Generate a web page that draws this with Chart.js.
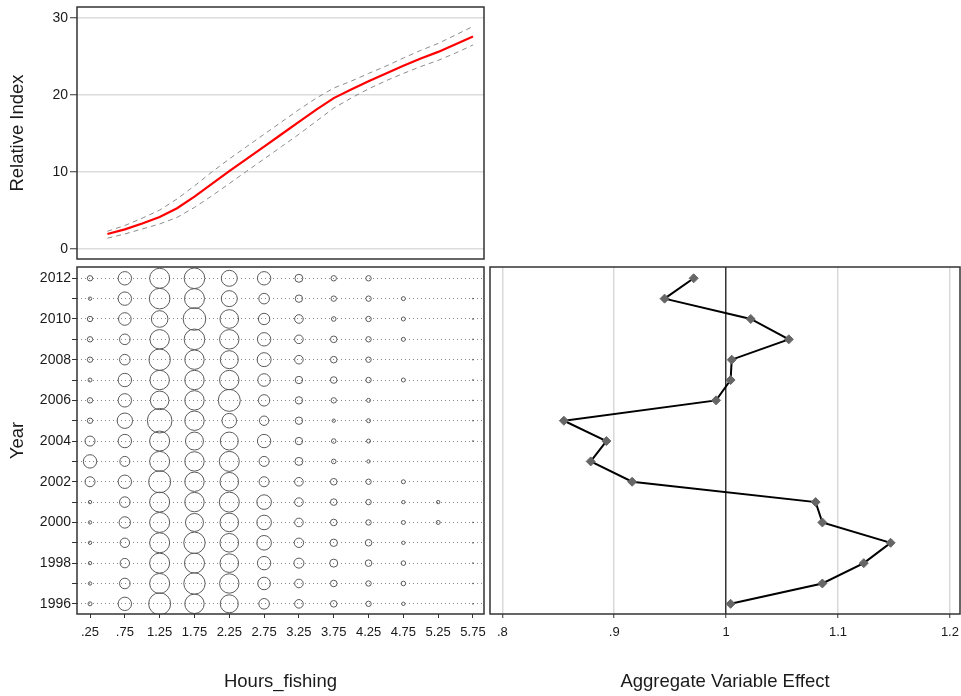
<!DOCTYPE html>
<html><head><meta charset="utf-8">
<script src="https://cdn.jsdelivr.net/npm/chart.js@4.4.1/dist/chart.umd.min.js"></script>
<style>
html,body{margin:0;padding:0;background:#fff;width:961px;height:696px;overflow:hidden;}
canvas{position:absolute;}
</style></head><body>
<canvas id="c1" width="490" height="262" style="left:0;top:0"></canvas>
<canvas id="c2" width="490" height="434" style="left:0;top:262px"></canvas>
<canvas id="c3" width="475" height="434" style="left:486px;top:262px"></canvas>
<script>
// ---------- data ----------
const curveHours = [0.5,0.75,1,1.25,1.5,1.75,2,2.25,2.5,2.75,3,3.25,3.5,3.75,4,4.25,4.5,4.75,5,5.25,5.5,5.75];
const curveIndex = [1.95,2.55,3.3,4.15,5.3,6.8,8.45,10.1,11.7,13.3,14.9,16.5,18.1,19.6,20.7,21.8,22.8,23.8,24.75,25.6,26.6,27.6];
const curveUpper = [2.3,3.05,4.0,5.05,6.5,8.2,10.0,11.7,13.3,14.9,16.5,18.1,19.6,20.9,21.8,22.8,23.75,24.8,25.8,26.7,27.8,28.9];
const curveLower = [1.4,1.95,2.6,3.25,4.1,5.4,6.9,8.5,10.1,11.7,13.3,14.9,16.6,18.3,19.6,20.8,21.85,22.8,23.7,24.5,25.45,26.5];
const indexTicks = [0,10,20,30];
const indexTickLabels = ['0','10','20','30'];

const hourBins = [0.25,0.75,1.25,1.75,2.25,2.75,3.25,3.75,4.25,4.75,5.25,5.75];
const hourTickLabels = ['.25','.75','1.25','1.75','2.25','2.75','3.25','3.75','4.25','4.75','5.25','5.75'];

const years = [2012,2011,2010,2009,2008,2007,2006,2005,2004,2003,2002,2001,2000,1999,1998,1997,1996];
// bubble size per year (rows follow `years`), columns follow `hourBins`
const bubbleSize = [
  [2.7,6.7,10,10.3,8,6.7,4,2.7,2.7,0,0,0],
  [1.7,6.7,10.3,10,8,5.3,3.7,2.7,2.7,2,0,0.5],
  [2.7,6.3,8.3,11.3,9.3,5.7,4.3,2.3,2.7,2,0,0.5],
  [2.7,5.3,9.7,10.3,9.7,6.7,4.3,3.3,2.7,2,0,0.5],
  [2.7,5.3,10.7,9.7,9,7,4.3,3.3,2.7,0,0,0.5],
  [2,6.7,9.7,9.7,9.7,6.3,3.7,3.3,2.7,2,0,0.5],
  [2.7,6.7,9.3,9.7,11,5.7,3.7,2.7,2,0,0,0.5],
  [2.7,7.7,12.3,9.7,7.3,4.7,3.7,1.7,2,0,0,0.5],
  [5,6.7,10,9,9,6.7,3.7,2.3,2,0,0,0.5],
  [6.7,5,10,9.7,10,5,4,2.3,1.7,0,0,0],
  [5,6.7,11,9.7,9.3,5,4.3,3.3,2.7,2,0,0],
  [1.7,5.3,10,9.7,10,7.3,4.3,3.3,2.7,1.7,1.7,0],
  [1.7,5.7,10,9,9.3,7.3,4.3,3.3,2.7,2,2,0.5],
  [1.7,4.7,10,10.7,9.3,7.3,4.7,3.7,3.3,1.7,0,0.5],
  [1.7,4.7,10,10,9.3,6.7,5,4,3.3,2.3,0,0.5],
  [1.7,5.3,10,10.7,9.7,6.3,4.3,3.3,2.7,2.3,0,0.5],
  [2,6.7,11,9.7,9,5.3,4.3,3.3,2.7,1.7,0,0.5]
];
const yearTicks = [1996,1997,1998,1999,2000,2001,2002,2003,2004,2005,2006,2007,2008,2009,2010,2011,2012];
const yearTickLabels = ['1996','','1998','','2000','','2002','','2004','','2006','','2008','','2010','','2012'];

const effectYears = [2012,2011,2010,2009,2008,2007,2006,2005,2004,2003,2002,2001,2000,1999,1998,1997,1996];
const effectValues = [0.971,0.945,1.022,1.056,1.005,1.004,0.991,0.855,0.893,0.879,0.916,1.080,1.086,1.147,1.123,1.086,1.004];
const effectTicks = [0.8,0.9,1.0,1.1,1.2];
const effectTickLabels = ['.8','.9','1','1.1','1.2'];

// ---------- setup ----------
Chart.defaults.font.family = '"Liberation Sans", Arial, sans-serif';
Chart.defaults.color = '#1a1a1a';
Chart.defaults.animation = false;
Chart.defaults.plugins.legend.display = false;
Chart.defaults.plugins.tooltip.enabled = false;

const boxPlugin = {
  id: 'box',
  afterDraw(chart) {
    const {ctx, chartArea: a} = chart;
    ctx.save();
    ctx.strokeStyle = '#333';
    ctx.lineWidth = 1.5;
    ctx.strokeRect(a.left, a.top, a.right - a.left, a.bottom - a.top);
    ctx.restore();
  }
};

function noPad(s) { s.paddingTop = 0; s.paddingBottom = 0; s.paddingLeft = 0; s.paddingRight = 0; }

const X_MIN = 0.063, X_MAX = 5.908;
const Y_MIN = 1995.5, Y_MAX = 2012.555;
const TITLE_FONT = {size: 18.5};

// ---------- top-left: relative index ----------
new Chart(document.getElementById('c1'), {
  type: 'scatter',
  data: {
    datasets: [
      {data: curveHours.map((h,i)=>({x:h,y:curveUpper[i]})), showLine:true, borderColor:'#8c8c8c', borderWidth:1, borderDash:[5,4], pointRadius:0},
      {data: curveHours.map((h,i)=>({x:h,y:curveLower[i]})), showLine:true, borderColor:'#8c8c8c', borderWidth:1, borderDash:[5,4], pointRadius:0},
      {data: curveHours.map((h,i)=>({x:h,y:curveIndex[i]})), showLine:true, borderColor:'#ff0000', borderWidth:2.2, pointRadius:0}
    ]
  },
  options: {
    responsive:false,
    layout:{autoPadding:false, padding:{top:7,right:6,bottom:3,left:0}},
    scales:{
      x:{type:'linear', display:false, min:X_MIN, max:X_MAX},
      y:{type:'linear', min:-1.3, max:31.43,
         afterFit:s=>{s.width=77; noPad(s);},
         afterBuildTicks:s=>{s.ticks=indexTicks.map(v=>({value:v}));},
         ticks:{autoSkip:false, padding:2, font:{size:14}, callback:(v,i)=>indexTickLabels[i]},
         grid:{color:'#dcdcdc', lineWidth:1.5, tickColor:'#333', tickLength:7, tickWidth:1},
         border:{display:false},
         title:{display:true, text:'Relative Index', font:TITLE_FONT, padding:{top:7,bottom:0}}
      }
    }
  },
  plugins:[boxPlugin]
});

// ---------- bottom-left: bubbles ----------
const bubbleData = [];
years.forEach((yr,i)=>hourBins.forEach((h,j)=>bubbleData.push({x:h, y:yr, r:bubbleSize[i][j]})));

new Chart(document.getElementById('c2'), {
  type:'bubble',
  data:{datasets:[{data:bubbleData, backgroundColor:'rgba(0,0,0,0)', borderColor:'#5a5a5a', borderWidth:1, hoverRadius:0}]},
  options:{
    responsive:false,
    layout:{autoPadding:false, padding:{top:5,right:6,bottom:0,left:0}},
    scales:{
      x:{type:'linear', min:X_MIN, max:X_MAX,
         afterFit:s=>{s.height=82; noPad(s);},
         afterBuildTicks:s=>{s.ticks=hourBins.map(v=>({value:v}));},
         ticks:{autoSkip:false, maxRotation:0, padding:7, font:{size:13}, callback:(v,i)=>hourTickLabels[i]},
         grid:{drawOnChartArea:false, tickLength:4, tickColor:'#333'},
         border:{display:false},
         title:{display:true, text:'Hours_fishing', font:TITLE_FONT, padding:{top:0,bottom:3}}
      },
      y:{type:'linear', min:Y_MIN, max:Y_MAX,
         afterFit:s=>{s.width=77; noPad(s);},
         afterBuildTicks:s=>{s.ticks=yearTicks.map(v=>({value:v}));},
         ticks:{autoSkip:false, padding:1, font:{size:14}, callback:(v,i)=>yearTickLabels[i]},
         grid:{color:'#8a8a8a', lineWidth:1, tickColor:'#333', tickLength:5},
         border:{display:false, dash:[1,3]},
         title:{display:true, text:'Year', font:TITLE_FONT, padding:{top:7,bottom:0}}
      }
    }
  },
  plugins:[boxPlugin]
});

// ---------- bottom-right: aggregate effect ----------
new Chart(document.getElementById('c3'), {
  type:'scatter',
  data:{datasets:[{
    data: effectYears.map((y,i)=>({x:effectValues[i], y:y})),
    showLine:true, borderColor:'#000', borderWidth:2,
    pointStyle:'rectRot', pointRadius:4.5, pointBackgroundColor:'#666', pointBorderColor:'#666', pointBorderWidth:1
  }]},
  options:{
    responsive:false,
    layout:{autoPadding:false, padding:{top:5,right:1,bottom:0,left:4}},
    scales:{
      x:{type:'linear', min:0.789, max:1.209,
         afterFit:s=>{s.height=82; noPad(s);},
         afterBuildTicks:s=>{s.ticks=effectTicks.map(v=>({value:v}));},
         ticks:{autoSkip:false, maxRotation:0, padding:7, font:{size:13}, callback:(v,i)=>effectTickLabels[i]},
         grid:{color:c=>(c.tick && Math.abs(c.tick.value-1)<1e-9)?'#333':'#d9d9d9', lineWidth:1.5, tickColor:'#333', tickLength:4, tickWidth:1},
         border:{display:false},
         title:{display:true, text:'Aggregate Variable Effect', font:TITLE_FONT, padding:{top:0,bottom:3}}
      },
      y:{type:'linear', display:false, min:Y_MIN, max:Y_MAX}
    }
  },
  plugins:[boxPlugin]
});
</script>
</body></html>
